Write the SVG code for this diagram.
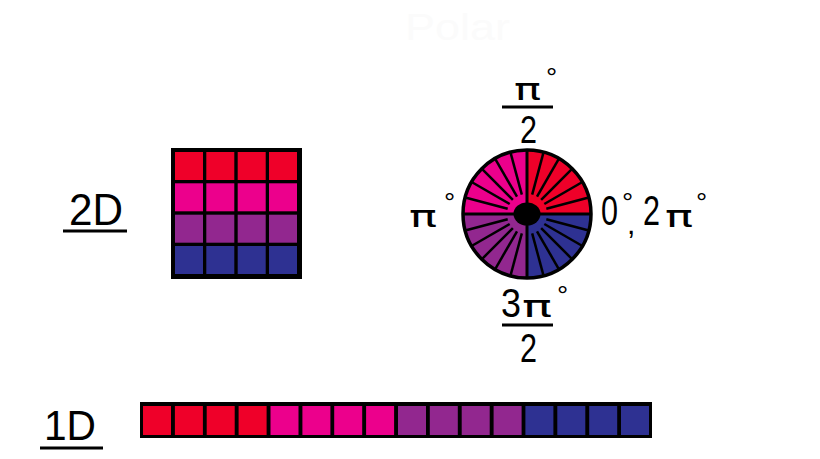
<svg xmlns="http://www.w3.org/2000/svg" xmlns:xlink="http://www.w3.org/1999/xlink" width="820" height="459" viewBox="0 0 820 459">
  <style>
    .red{fill:#EF0029}
    .pink{fill:#EC008C}
    .purple{fill:#92278F}
    .blue{fill:#2E3192}
    .frame{fill:#000}
    .t{font-family:"Liberation Sans","DejaVu Sans",sans-serif;fill:#000}
    .pi{font-family:"DejaVu Sans","Liberation Sans",sans-serif;font-size:30px}
    .deg{font-family:"Liberation Sans","DejaVu Sans",sans-serif;font-size:28px}
    .rule{stroke:#000;stroke-width:3}
    .spk{stroke:#000;stroke-width:2.5}
  </style>
  <defs>
    <line id="spoke" class="spk" x1="20" y1="0" x2="63" y2="0"/>
  </defs>
  <rect width="820" height="459" fill="#fff"/>

  <g id="title">
    <text class="t" x="405" y="40" font-size="37" style="fill:#fbfbfb" textLength="105" lengthAdjust="spacingAndGlyphs">Polar</text>
  </g>

  <g id="label-2d">
    <text class="t" x="69" y="225" font-size="44" textLength="54" lengthAdjust="spacingAndGlyphs">2D</text>
    <line class="rule" x1="63" y1="231" x2="127" y2="231"/>
  </g>

  <g id="grid-2d">
    <rect class="frame" x="171" y="148" width="131" height="131"/>
    <rect class="red" x="175" y="152" width="28" height="28"/>
    <rect class="red" x="206.3" y="152" width="28" height="28"/>
    <rect class="red" x="237.7" y="152" width="28" height="28"/>
    <rect class="red" x="269" y="152" width="28" height="28"/>
    <rect class="pink" x="175" y="183.3" width="28" height="28"/>
    <rect class="pink" x="206.3" y="183.3" width="28" height="28"/>
    <rect class="pink" x="237.7" y="183.3" width="28" height="28"/>
    <rect class="pink" x="269" y="183.3" width="28" height="28"/>
    <rect class="purple" x="175" y="214.7" width="28" height="28"/>
    <rect class="purple" x="206.3" y="214.7" width="28" height="28"/>
    <rect class="purple" x="237.7" y="214.7" width="28" height="28"/>
    <rect class="purple" x="269" y="214.7" width="28" height="28"/>
    <rect class="blue" x="175" y="246" width="28" height="28"/>
    <rect class="blue" x="206.3" y="246" width="28" height="28"/>
    <rect class="blue" x="237.7" y="246" width="28" height="28"/>
    <rect class="blue" x="269" y="246" width="28" height="28"/>
  </g>

  <g id="polar-wheel">
    <g transform="translate(527,214)">
      <path class="red" d="M0,0 L64,0 A64,64 0 0 0 0,-64 Z"/>
      <path class="pink" d="M0,0 L0,-64 A64,64 0 0 0 -64,0 Z"/>
      <path class="purple" d="M0,0 L-64,0 A64,64 0 0 0 0,64 Z"/>
      <path class="blue" d="M0,0 L0,64 A64,64 0 0 0 64,0 Z"/>
      <use xlink:href="#spoke" transform="rotate(-15)"/>
      <use xlink:href="#spoke" transform="rotate(-30)"/>
      <use xlink:href="#spoke" transform="rotate(-45)"/>
      <use xlink:href="#spoke" transform="rotate(-60)"/>
      <use xlink:href="#spoke" transform="rotate(-75)"/>
      <use xlink:href="#spoke" transform="rotate(-105)"/>
      <use xlink:href="#spoke" transform="rotate(-120)"/>
      <use xlink:href="#spoke" transform="rotate(-135)"/>
      <use xlink:href="#spoke" transform="rotate(-150)"/>
      <use xlink:href="#spoke" transform="rotate(-165)"/>
      <use xlink:href="#spoke" transform="rotate(15)"/>
      <use xlink:href="#spoke" transform="rotate(30)"/>
      <use xlink:href="#spoke" transform="rotate(45)"/>
      <use xlink:href="#spoke" transform="rotate(60)"/>
      <use xlink:href="#spoke" transform="rotate(75)"/>
      <use xlink:href="#spoke" transform="rotate(105)"/>
      <use xlink:href="#spoke" transform="rotate(120)"/>
      <use xlink:href="#spoke" transform="rotate(135)"/>
      <use xlink:href="#spoke" transform="rotate(150)"/>
      <use xlink:href="#spoke" transform="rotate(165)"/>
      <line class="rule" x1="-64" y1="0" x2="64" y2="0"/>
      <line class="rule" x1="0" y1="-64" x2="0" y2="64"/>
      <circle cx="0" cy="0" r="64" fill="none" stroke="#000" stroke-width="3.5"/>
      <ellipse cx="0" cy="0" rx="13.5" ry="11.5" fill="#000"/>
    </g>
  </g>

  <g id="label-top">
    <text class="t" y="100"><tspan class="pi" x="514" textLength="27" lengthAdjust="spacingAndGlyphs">π</tspan><tspan class="deg" x="546" y="87">°</tspan></text>
    <line class="rule" x1="502" y1="107" x2="553" y2="107"/>
    <text class="t" x="520" y="143" font-size="39" textLength="17" lengthAdjust="spacingAndGlyphs">2</text>
  </g>

  <g id="label-left">
    <text class="t" y="227"><tspan class="pi" x="409" textLength="28" lengthAdjust="spacingAndGlyphs">π</tspan><tspan class="deg" x="444" y="212">°</tspan></text>
  </g>

  <g id="label-right">
    <text class="t" y="225"><tspan x="601" font-size="42" textLength="17" lengthAdjust="spacingAndGlyphs">0</tspan><tspan class="deg" x="622" y="212">°</tspan><tspan x="627" y="234" font-size="30">,</tspan><tspan x="643" y="225" font-size="42" textLength="17" lengthAdjust="spacingAndGlyphs">2</tspan><tspan class="pi" x="665" y="227" textLength="28" lengthAdjust="spacingAndGlyphs">π</tspan><tspan class="deg" x="696" y="212">°</tspan></text>
  </g>

  <g id="label-bottom">
    <text class="t" y="317"><tspan x="501" font-size="40" textLength="20" lengthAdjust="spacingAndGlyphs">3</tspan><tspan class="pi" x="522" textLength="30" lengthAdjust="spacingAndGlyphs">π</tspan><tspan class="deg" x="557" y="305">°</tspan></text>
    <line class="rule" x1="502" y1="325" x2="553" y2="325"/>
    <text class="t" x="520" y="362" font-size="41" textLength="17" lengthAdjust="spacingAndGlyphs">2</text>
  </g>

  <g id="label-1d">
    <text class="t" x="44" y="440" font-size="42" textLength="52" lengthAdjust="spacingAndGlyphs">1D</text>
    <line class="rule" x1="40" y1="448" x2="103" y2="448"/>
  </g>

  <g id="bar-1d">
    <rect class="frame" x="140" y="402" width="512" height="36"/>
    <rect class="red" x="143" y="406" width="28" height="29"/>
    <rect class="red" x="174.9" y="406" width="28" height="29"/>
    <rect class="red" x="206.7" y="406" width="28" height="29"/>
    <rect class="red" x="238.6" y="406" width="28" height="29"/>
    <rect class="pink" x="270.5" y="406" width="28" height="29"/>
    <rect class="pink" x="302.4" y="406" width="28" height="29"/>
    <rect class="pink" x="334.2" y="406" width="28" height="29"/>
    <rect class="pink" x="366.1" y="406" width="28" height="29"/>
    <rect class="purple" x="398" y="406" width="28" height="29"/>
    <rect class="purple" x="429.8" y="406" width="28" height="29"/>
    <rect class="purple" x="461.7" y="406" width="28" height="29"/>
    <rect class="purple" x="493.6" y="406" width="28" height="29"/>
    <rect class="blue" x="525.4" y="406" width="28" height="29"/>
    <rect class="blue" x="557.3" y="406" width="28" height="29"/>
    <rect class="blue" x="589.2" y="406" width="28" height="29"/>
    <rect class="blue" x="621" y="406" width="28" height="29"/>
  </g>
</svg>
